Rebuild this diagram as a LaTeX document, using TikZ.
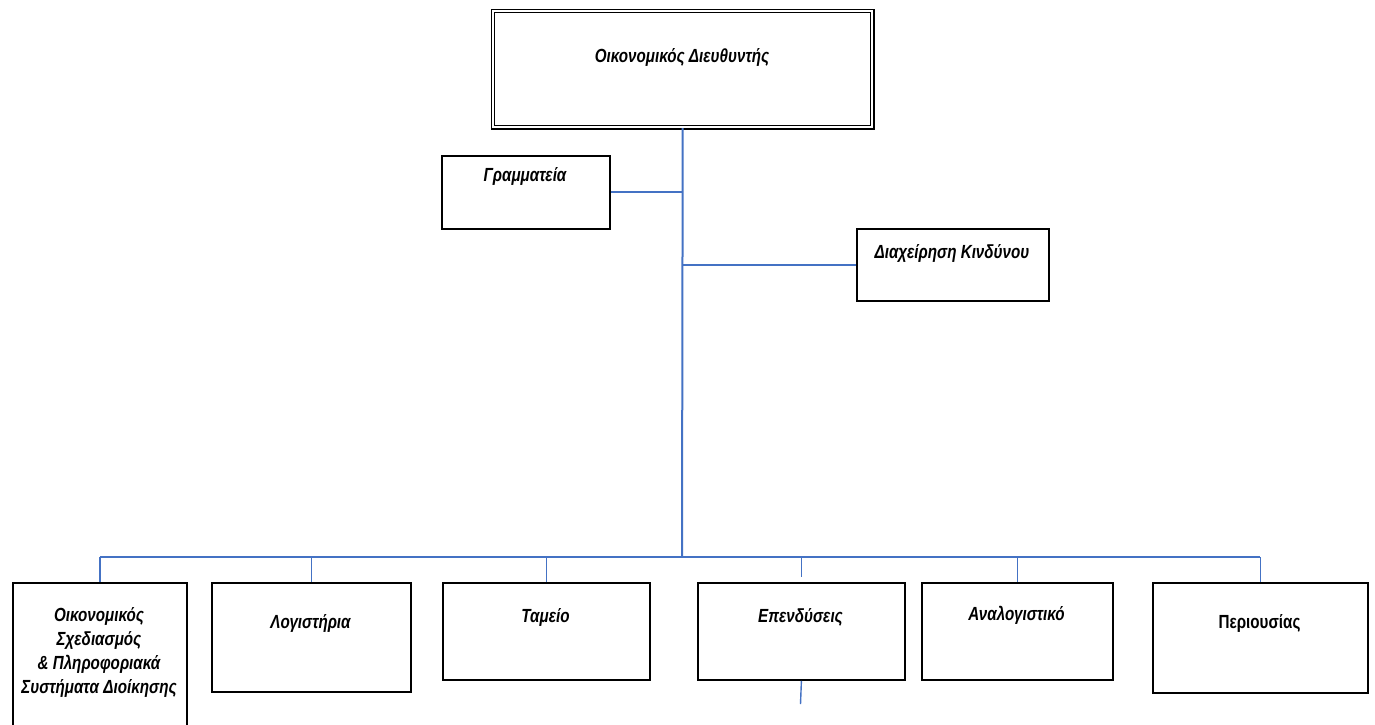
\documentclass[tikz,border=0pt]{standalone}
\usepackage{fontspec}
\setmainfont{Liberation Sans}
\newfontfamily\narrowfont[FakeStretch=0.8]{Liberation Sans}
\definecolor{linkblue}{RGB}{68,114,196}
\begin{document}
\begin{tikzpicture}[x=1pt,y=-1pt,
  box/.style={draw=black, line width=1.8pt, fill=white, inner sep=0pt, anchor=north west},
  lbl/.style={font=\narrowfont\fontsize{19}{24}\selectfont\bfseries\itshape, align=center, inner sep=0pt},
  lblup/.style={font=\narrowfont\fontsize{19}{24}\selectfont\bfseries, align=center, inner sep=0pt},
  conn/.style={draw=linkblue, line width=2pt},
  drop/.style={draw=linkblue, line width=1.4pt}]
\clip (0,0) rectangle (1375,724);
\fill[white] (0,0) rectangle (1375,724);
% director box (double border)
\node[draw=black, double=white, line width=1.4pt, double distance=2pt, inner sep=0pt,
      minimum width=379.4pt, minimum height=116.4pt, anchor=north west] (dir) at (492.3,10.3) {};
\node[lbl] (dirt) at (682,57) {Οικονομικός Διευθυντής};
% staff boxes
\node[box, minimum width=168pt, minimum height=73pt] (gram) at (441,155) {};
\node[lbl] (gramt) at (525,176) {Γραμματεία};
\node[box, minimum width=192pt, minimum height=72pt] (diax) at (856,228) {};
\node[lbl] (diaxt) at (952,253) {Διαχείρηση Κινδύνου};
% departments
\node[box, minimum width=174pt, minimum height=160pt] (fin) at (12,582) {};
\node[lbl] (fint) at (99,652) {Οικονομικός\\Σχεδιασμός\\\& Πληροφοριακά\\Συστήματα Διοίκησης};
\node[box, minimum width=199pt, minimum height=109pt] (log) at (211,582) {};
\node[lbl] (logt) at (310.5,623) {Λογιστήρια};
\node[box, minimum width=207pt, minimum height=97pt] (tam) at (442,582) {};
\node[lbl] (tamt) at (545.5,617) {Ταμείο};
\node[box, minimum width=207pt, minimum height=97pt] (ep) at (697,582) {};
\node[lbl] (ept) at (800.5,617) {Επενδύσεις};
\node[box, minimum width=191pt, minimum height=97pt] (anal) at (921,582) {};
\node[lbl] (analt) at (1016.5,615) {Αναλογιστικό};
\node[box, minimum width=215pt, minimum height=110pt] (per) at (1152,582) {};
\node[lblup] (pert) at (1259.5,623) {Περιουσίας};
% connectors
\coordinate (hub) at (682,557);
\coordinate (epend) at (800.5,704);
\draw[conn] (dir.south) -- (hub);
\draw[conn] (gram.east) -- (gram.east -| hub);
\draw[conn] (diax.west) -- (diax.west -| hub);
\draw[conn] (fin.north |- hub) -- (per.north |- hub);
\draw[drop] (fin.north |- hub) -- (fin.north);
\draw[drop] (log.north |- hub) -- (log.north);
\draw[drop] (tam.north |- hub) -- (tam.north);
\draw[drop] (ep.north |- hub) -- ([yshift=5pt]ep.north);
\draw[drop] (anal.north |- hub) -- (anal.north);
\draw[drop] (per.north |- hub) -- (per.north);
\draw[drop] (ep.south) -- (epend);
\end{tikzpicture}
\end{document}
